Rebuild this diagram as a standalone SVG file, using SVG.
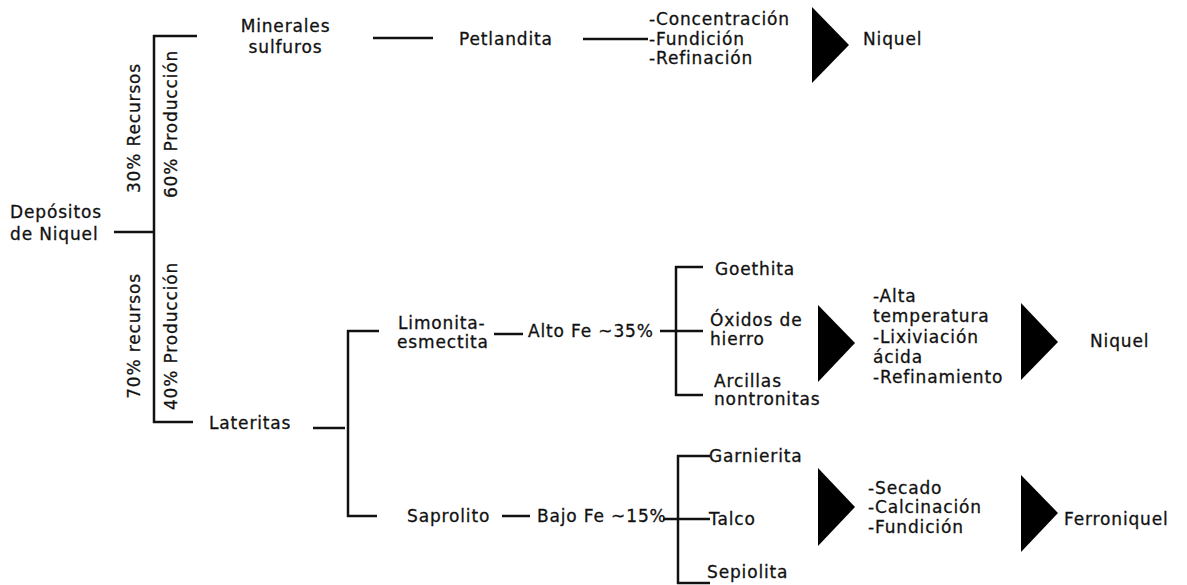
<svg xmlns="http://www.w3.org/2000/svg" width="1187" height="585" viewBox="0 0 1187 585">
<style>
  text { font-family: "DejaVu Sans", "Liberation Sans", sans-serif; font-size: 17px; letter-spacing: 0.85px; fill: #111; stroke: #111; stroke-width: 0.3px; }
  .mid { text-anchor: middle; }
  .conn line { stroke: #111; stroke-width: 2.5; stroke-linecap: butt; }
  .tri { fill: #000; }
</style>
<rect width="1187" height="585" fill="#fff"/>
<g id="connectors" class="conn">
  <line x1="114" y1="232" x2="154" y2="232"/>
  <line x1="154" y1="35" x2="154" y2="423"/>
  <line x1="153" y1="36" x2="197" y2="36"/>
  <line x1="153" y1="422" x2="193" y2="422"/>
  <line x1="373" y1="38" x2="433" y2="38"/>
  <line x1="583" y1="39" x2="648" y2="39"/>
  <line x1="313" y1="428" x2="345" y2="428"/>
  <line x1="348" y1="330" x2="348" y2="517"/>
  <line x1="347" y1="331" x2="379" y2="331"/>
  <line x1="347" y1="516" x2="377" y2="516"/>
  <line x1="494" y1="334" x2="523" y2="334"/>
  <line x1="660" y1="331" x2="703" y2="331"/>
  <line x1="676" y1="266" x2="676" y2="396"/>
  <line x1="675" y1="267" x2="703" y2="267"/>
  <line x1="675" y1="395" x2="703" y2="395"/>
  <line x1="502" y1="516" x2="530" y2="516"/>
  <line x1="663" y1="519" x2="710" y2="519"/>
  <line x1="678" y1="455" x2="678" y2="584"/>
  <line x1="677" y1="456" x2="710" y2="456"/>
  <line x1="677" y1="583" x2="710" y2="583"/>
</g>
<g id="arrows">
  <polygon class="tri" points="812,7 849,45 812,83"/>
  <polygon class="tri" points="818,305 855,343 818,382"/>
  <polygon class="tri" points="1021,303 1058,342 1021,380"/>
  <polygon class="tri" points="818,468 855,507 818,546"/>
  <polygon class="tri" points="1021,475 1058,513 1021,552"/>
</g>
<g id="depositos"><text x="10" y="218">Depósitos</text><text x="10" y="240">de Niquel</text></g>
<g id="label-30"><text class="mid" transform="translate(140,128) rotate(-90)">30% Recursos</text></g>
<g id="label-60"><text class="mid" transform="translate(177,124) rotate(-90)">60% Producción</text></g>
<g id="label-70"><text class="mid" transform="translate(140,336) rotate(-90)">70% recursos</text></g>
<g id="label-40"><text class="mid" transform="translate(177,336) rotate(-90)">40% Producción</text></g>
<g id="minerales"><text class="mid" x="285.5" y="32">Minerales</text><text class="mid" x="285.5" y="53">sulfuros</text></g>
<g id="petlandita"><text x="459" y="45">Petlandita</text></g>
<g id="proceso1"><text x="649" y="25">-Concentración</text><text x="649" y="45">-Fundición</text><text x="649" y="64">-Refinación</text></g>
<g id="niquel1"><text x="863" y="45">Niquel</text></g>
<g id="lateritas"><text x="209" y="429">Lateritas</text></g>
<g id="limonita"><text x="398" y="329">Limonita-</text><text x="397" y="348">esmectita</text></g>
<g id="altofe"><text x="528" y="337">Alto Fe ~35%</text></g>
<g id="goethita"><text x="715" y="275">Goethita</text></g>
<g id="oxidos"><text x="710" y="326">Óxidos de</text><text x="710" y="345">hierro</text></g>
<g id="arcillas"><text x="714" y="387">Arcillas</text><text x="714" y="405">nontronitas</text></g>
<g id="proceso2"><text x="873" y="302">-Alta</text><text x="873" y="322">temperatura</text><text x="873" y="343">-Lixiviación</text><text x="873" y="363">ácida</text><text x="873" y="383">-Refinamiento</text></g>
<g id="niquel2"><text x="1090" y="347">Niquel</text></g>
<g id="saprolito"><text x="407" y="522">Saprolito</text></g>
<g id="bajofe"><text x="537" y="522">Bajo Fe ~15%</text></g>
<g id="garnierita"><text x="709" y="462">Garnierita</text></g>
<g id="talco"><text x="709" y="525">Talco</text></g>
<g id="sepiolita"><text x="707" y="578">Sepiolita</text></g>
<g id="proceso3"><text x="868" y="494">-Secado</text><text x="868" y="513">-Calcinación</text><text x="868" y="533">-Fundición</text></g>
<g id="ferroniquel"><text x="1064" y="525">Ferroniquel</text></g>
</svg>
